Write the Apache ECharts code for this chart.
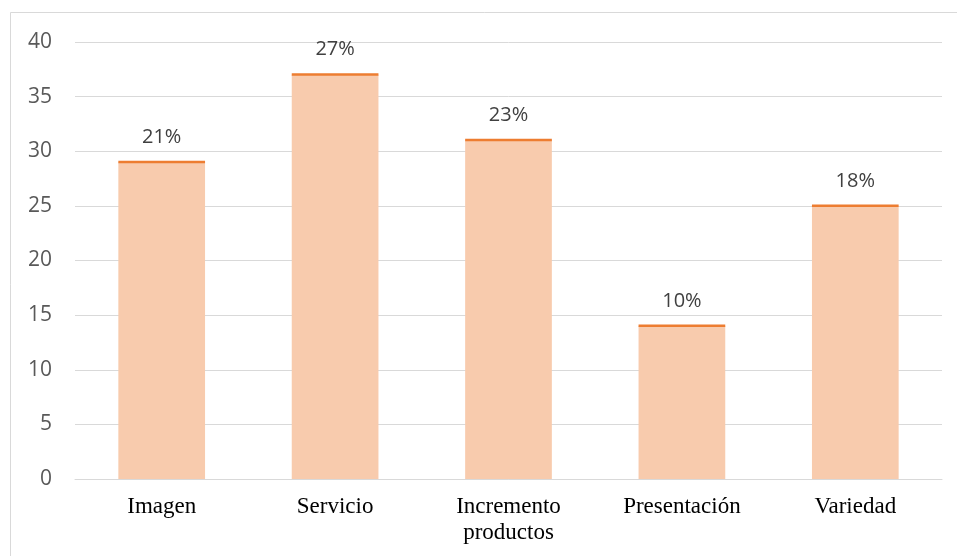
<!DOCTYPE html>
<html>
<head>
<meta charset="utf-8">
<script src="https://cdn.jsdelivr.net/npm/echarts@6/dist/echarts.min.js"></script>
<style>
  html, body { margin: 0; padding: 0; background: #fff; }
  #main { width: 957px; height: 556px; }
</style>
</head>
<body>
<div id="main"></div>
<script>
var categories = ['Imagen', 'Servicio', 'Incremento\nproductos', 'Presentación', 'Variedad'];
var values = [29, 37, 31, 14, 25];
var percentLabels = ['21%', '27%', '23%', '10%', '18%'];

var chart = echarts.init(document.getElementById('main'));

var option = {
    animation: false,
    backgroundColor: '#ffffff',
    graphic: [{
        type: 'rect',
        shape: { x: 10.5, y: 12.5, width: 960, height: 560 },
        style: { fill: 'none', stroke: '#d9d9d9', lineWidth: 1 },
        silent: true
    }],
    grid: { left: 75, right: 15, top: 42, bottom: 77 },
    xAxis: {
        type: 'category',
        data: categories,
        axisTick: { show: false },
        axisLine: { lineStyle: { color: '#d9d9d9', width: 1 } },
        axisLabel: {
            margin: 15,
            fontFamily: 'Liberation Serif',
            fontSize: 23,
            color: '#000000',
            lineHeight: 26,
            interval: 0
        }
    },
    yAxis: {
        type: 'value',
        min: 0,
        max: 40,
        interval: 5,
        axisLine: { show: false },
        axisTick: { show: false },
        splitLine: { lineStyle: { color: '#d9d9d9', width: 1 } },
        axisLabel: {
            margin: 23,
            fontFamily: 'Open Sans',
            fontSize: 21,
            color: '#595959'
        }
    },
    series: [{
        type: 'bar',
        data: values,
        barWidth: '50%',
        itemStyle: { color: '#f8cbad' },
        label: {
            show: true,
            position: 'top',
            distance: 15,
            fontFamily: 'Open Sans',
            fontSize: 20,
            color: '#404040',
            formatter: function (p) { return percentLabels[p.dataIndex]; }
        }
    }, {
        // orange cap on top of each bar
        type: 'custom',
        data: values,
        silent: true,
        z: 5,
        renderItem: function (params, api) {
            var top = api.coord([api.value(0), api.value(1)]);
            var w = api.size([1, 0])[0] * 0.5;
            return {
                type: 'rect',
                shape: { x: top[0] - w / 2, y: top[1] - 1.5, width: w, height: 2.5 },
                style: { fill: '#ed7d31' }
            };
        },
        encode: { x: 0, y: 1 }
    }]
};

chart.setOption(option);
</script>
</body>
</html>
